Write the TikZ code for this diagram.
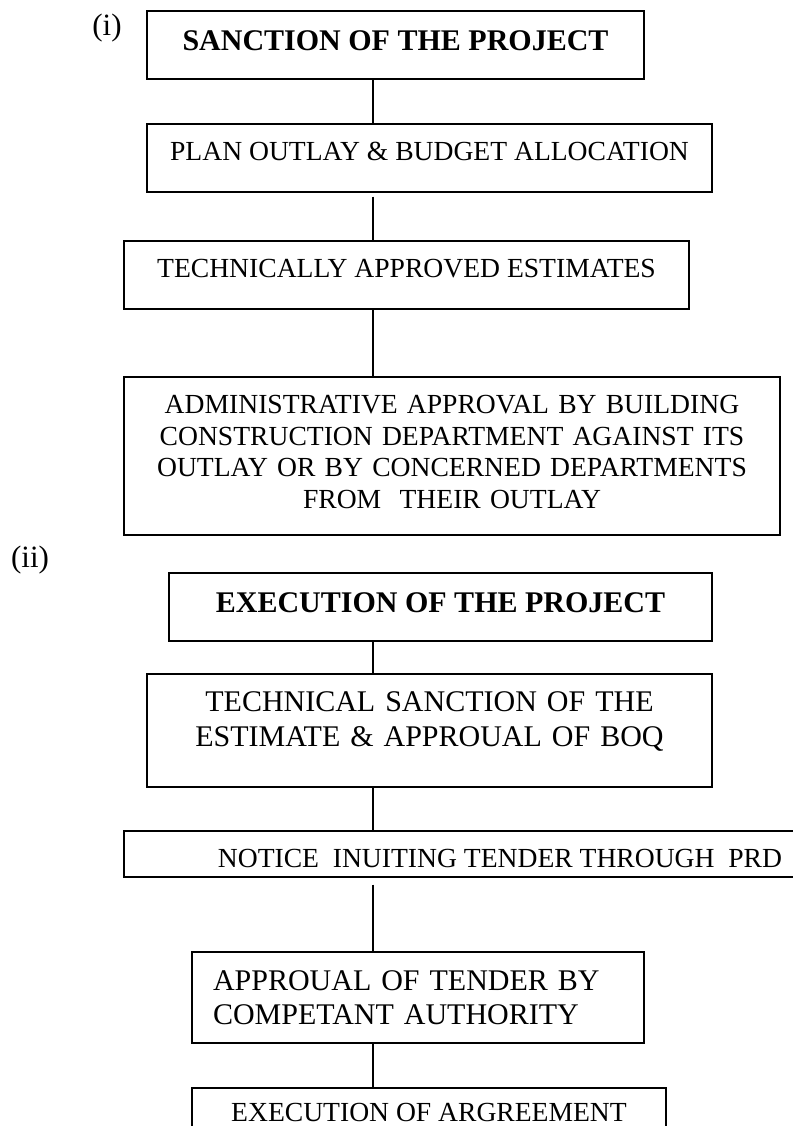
\documentclass[tikz,border=0pt]{standalone}
\usepackage{fontspec}
\setmainfont{Liberation Serif}
\usepackage{tikz}

\tikzset{
  stage/.style={draw, rectangle, line width=1.6pt, anchor=north, inner xsep=0pt, inner ysep=0pt,
    align=center, font=\fontsize{27.6}{31.7}\selectfont},
  headstage/.style={stage, font=\fontsize{30}{34}\selectfont\bfseries},
  widestage/.style={stage, font=\fontsize{30}{34.5}\selectfont},
  link/.style={line width=1.6pt},
}

\begin{document}
\begin{tikzpicture}[x=1pt,y=-1pt]
\useasboundingbox (0,0) rectangle (792,1126);
\coordinate (spine) at (373,0);

\node[font=\fontsize{31}{34}\selectfont] (parti)  at (107,28.5) {(i)};
\node[font=\fontsize{31}{34}\selectfont] (partii) at (30,560)   {(ii)};

\node[headstage, minimum width=497pt, text height=40pt,   text depth=28pt]    (sanction)   at (395.5,10) {SANCTION OF THE PROJECT};
\node[stage,     minimum width=565pt, text height=36.3pt, text depth=31.7pt]  (outlay)     at (429.5,123) {PLAN OUTLAY \& BUDGET ALLOCATION};
\node[stage,     minimum width=565pt, text height=36.7pt, text depth=31.3pt]  (estimates)  at (406.5,240) {TECHNICALLY APPROVED ESTIMATES};
\node[stage,     text width=656pt,    text height=36.7pt, text depth=121.3pt] (adminappr)  at (452,376)   {ADMINISTRATIVE APPROVAL BY BUILDING\\ CONSTRUCTION DEPARTMENT AGAINST ITS\\ OUTLAY OR BY CONCERNED DEPARTMENTS\\ FROM~ THEIR OUTLAY};

\node[headstage, minimum width=543pt, text height=39.7pt, text depth=28.3pt]  (execution)  at (440.5,572) {EXECUTION OF THE PROJECT};
\node[widestage, text width=565pt,    text height=37.7pt, text depth=75.3pt]  (techsanct)  at (429.5,673) {TECHNICAL SANCTION OF THE\\ ESTIMATE \& APPROUAL OF BOQ};
\node[stage,     minimum width=752pt, text height=36.7pt, text depth=9.3pt]   (notice)     at (500,830)   {NOTICE~ INUITING TENDER THROUGH~ PRD};
\node[widestage, align=left, inner xsep=21pt, text width=410pt, text height=38.3pt, text depth=52.7pt] (tenderappr) at (418,951) {APPROUAL OF TENDER BY\\ COMPETANT AUTHORITY};
\node[stage,     minimum width=474pt, text height=34pt,   text depth=38pt]    (agreement)  at (429,1087)  {EXECUTION OF ARGREEMENT};

\path[link]
  (sanction.south -| spine)   edge                (outlay.north -| spine)
  (outlay.south -| spine)     edge[shorten <=4pt] (estimates.north -| spine)
  (estimates.south -| spine)  edge                (adminappr.north -| spine)
  (execution.south -| spine)  edge                (techsanct.north -| spine)
  (techsanct.south -| spine)  edge                (notice.north -| spine)
  (notice.south -| spine)     edge[shorten <=7pt] (tenderappr.north -| spine)
  (tenderappr.south -| spine) edge                (agreement.north -| spine);

\end{tikzpicture}
\end{document}
